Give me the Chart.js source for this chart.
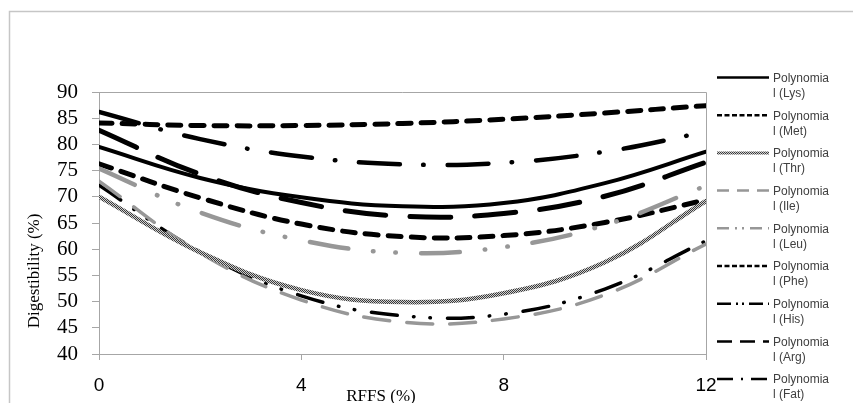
<!DOCTYPE html>
<html>
<head>
<meta charset="utf-8">
<script src="https://cdn.jsdelivr.net/npm/chart.js@4.4.0/dist/chart.umd.min.js"></script>
<style>
  html, body { margin: 0; padding: 0; background: #fff; }
  #wrap { width: 853px; height: 403px; position: relative; }
</style>
</head>
<body>
<div id="wrap"><canvas id="myChart" width="853" height="403"></canvas></div>
<script>
// values, x = RFFS (%)
const xValues = [0, 2, 4, 6, 8, 10, 12];
const lys = [79.5, 73.6, 69.9, 68.2, 68.8, 72.6, 78.6];
const met = [84.1, 83.6, 83.6, 84.0, 84.8, 86.0, 87.4];
const thr = [70.0, 59.4, 52.2, 49.9, 51.6, 57.5, 69.2];
const ile = [73.0, 59.3, 50.3, 46.1, 46.7, 51.3, 61.0];
const leu = [75.4, 67.0, 61.7, 59.3, 60.4, 64.6, 72.1];
const phe = [76.3, 69.8, 64.8, 62.4, 62.6, 65.1, 69.4];
const his = [72.2, 59.5, 51.1, 47.3, 47.6, 52.4, 61.6];
const arg = [82.7, 74.3, 68.9, 66.3, 66.8, 70.1, 76.6];
const fat = [86.2, 81.0, 77.7, 76.2, 76.5, 78.6, 82.4];

const legendNames = ['Lys', 'Met', 'Thr', 'Ile', 'Leu', 'Phe', 'His', 'Arg', 'Fat'];
const yTicks = [40, 45, 50, 55, 60, 65, 70, 75, 80, 85, 90];
const xTicks = [0, 4, 8, 12];

// hatched texture for Thr
function hatch() {
    const c = document.createElement('canvas');
    c.width = 2; c.height = 2;
    const g = c.getContext('2d');
    g.fillStyle = '#cfcfcf';
    g.fillRect(0, 0, 2, 2);
    g.fillStyle = '#3a3a3a';
    g.fillRect(0, 0, 1, 1);
    g.fillRect(1, 1, 1, 1);
    return g.createPattern(c, 'repeat');
}

const gray = '#979797';

function pts(arr) {
    return arr.map((v, i) => ({ x: xValues[i], y: v }));
}

const series = [
    { data: lys, color: '#000', width: 4, dash: [] },
    { data: met, color: '#000', width: 5, dash: [13, 10] },
    { data: thr, color: hatch(), width: 4.5, dash: [] },
    { data: ile, color: gray, width: 3.5, dash: [26, 17] },
    { data: leu, color: gray, width: 4.5, dash: [39, 25, 0.5, 22, 0.5, 25] },
    { data: phe, color: '#000', width: 5, dash: [13, 10] },
    { data: his, color: '#000', width: 3.5, dash: [26, 16, 0.5, 16, 0.5, 17] },
    { data: arg, color: '#000', width: 5, dash: [41, 24] },
    { data: fat, color: '#000', width: 4.5, dash: [41, 23, 0.5, 24] }
];

const datasets = series.map((s, i) => ({
    label: 'Polynomial (' + legendNames[i] + ')',
    data: pts(s.data),
    borderColor: s.color,
    borderWidth: s.width,
    borderDash: s.dash,
    borderCapStyle: 'round',
    pointRadius: 0,
    fill: false,
    tension: 0.4
}));

// legend samples, butt caps, dots as short 2px dashes
const legendDash = [
    [], [5, 2.5], [], [12, 8], [12, 6, 2, 5, 2, 6],
    [5, 2.5], [14, 5, 2, 4, 2, 5], [15, 8], [16, 8, 2, 8]
];

const extras = {
    id: 'extras',
    afterDraw(chart) {
        const ctx = chart.ctx;
        const a = chart.chartArea;
        ctx.save();
        // outer frame
        ctx.strokeStyle = '#c6c6c6';
        ctx.lineWidth = 1.5;
        ctx.beginPath();
        ctx.moveTo(9.5, 403);
        ctx.lineTo(9.5, 11.5);
        ctx.lineTo(853, 11.5);
        ctx.stroke();
        // plot box top/right
        ctx.strokeStyle = '#a6a6a6';
        ctx.lineWidth = 1;
        ctx.beginPath();
        ctx.moveTo(a.left, a.top + 0.5);
        ctx.lineTo(a.right + 0.5, a.top + 0.5);
        ctx.lineTo(a.right + 0.5, a.bottom);
        ctx.stroke();

        // axis titles
        ctx.fillStyle = '#000';
        ctx.font = '17px "Liberation Serif", "Times New Roman", serif';
        ctx.textAlign = 'center';
        ctx.textBaseline = 'middle';
        ctx.fillText('RFFS (%)', 381, 397);
        ctx.save();
        ctx.translate(35, 271);
        ctx.rotate(-Math.PI / 2);
        ctx.fillText('Digestibility (%)', 0, 0);
        ctx.restore();

        // legend
        ctx.font = '12px "Liberation Sans", Arial, sans-serif';
        ctx.textAlign = 'left';
        ctx.fillStyle = '#404040';
        chart.data.datasets.forEach((ds, i) => {
            const y = 77.5 + i * 37.7;
            ctx.save();
            ctx.strokeStyle = ds.borderColor;
            ctx.lineWidth = i === 2 ? 3 : 2.5;
            ctx.lineCap = 'butt';
            ctx.setLineDash(legendDash[i]);
            ctx.beginPath();
            ctx.moveTo(717, y);
            ctx.lineTo(769, y);
            ctx.stroke();
            ctx.restore();
            ctx.fillText('Polynomia', 773, y + 1);
            ctx.fillText('l (' + legendNames[i] + ')', 773, y + 16);
        });
        ctx.restore();
    }
};

const canvas_ = document.getElementById('myChart');
const ctx_ = canvas_.getContext('2d');

new Chart(ctx_, {
    type: 'line',
    data: { datasets: datasets },
    options: {
        responsive: false,
        animation: false,
        layout: { padding: { left: 0, top: 92, right: 147, bottom: 0 } },
        plugins: {
            legend: { display: false },
            tooltip: { enabled: false }
        },
        scales: {
            x: {
                type: 'linear',
                min: 0,
                max: 12,
                afterFit(s) { s.height = 49; },
                afterBuildTicks(s) { s.ticks = xTicks.map(v => ({ value: v })); },
                grid: { drawOnChartArea: false, drawTicks: true, tickLength: 6, color: '#a6a6a6' },
                border: { color: '#a6a6a6' },
                ticks: {
                    autoSkip: false,
                    maxRotation: 0,
                    color: '#000',
                    padding: 14,
                    font: { family: '"Liberation Sans", Arial, sans-serif', size: 19 }
                }
            },
            y: {
                min: 40,
                max: 90,
                afterFit(s) { s.width = 99; },
                afterBuildTicks(s) { s.ticks = yTicks.map(v => ({ value: v })); },
                grid: { drawOnChartArea: false, drawTicks: true, tickLength: 7, color: '#a6a6a6' },
                border: { color: '#a6a6a6' },
                ticks: {
                    autoSkip: false,
                    color: '#000',
                    padding: 14,
                    font: { family: '"Liberation Serif", "Times New Roman", serif', size: 21 }
                }
            }
        }
    },
    plugins: [extras]
});
</script>
</body>
</html>
